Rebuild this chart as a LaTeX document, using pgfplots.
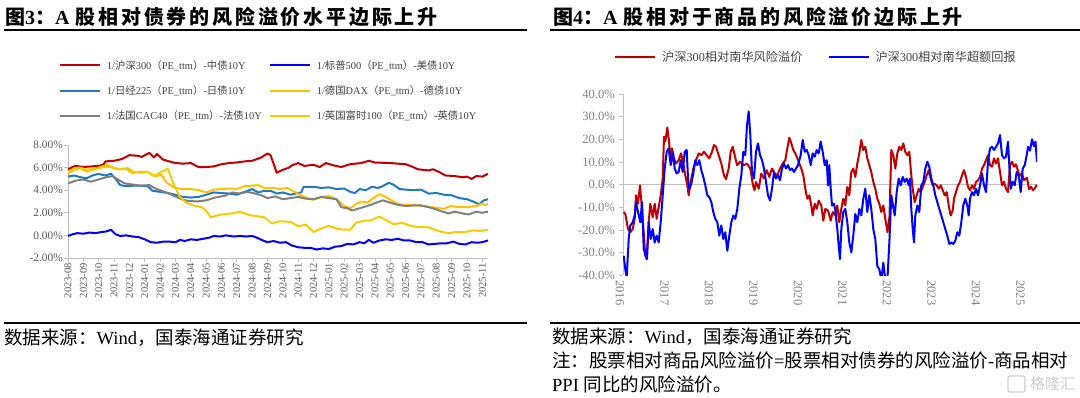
\documentclass[border=0pt]{standalone}
\usepackage{fontspec}
\setmainfont{Liberation Serif}
\newfontfamily\cjk{Noto Sans CJK SC}
\newfontfamily\cjkt{Noto Sans CJK SC}[LetterSpace=14]
\usepackage{pgfplots}
\pgfplotsset{compat=1.18}
\definecolor{cred}{HTML}{C00000}
\definecolor{cblue}{HTML}{0000FF}
\definecolor{clblue}{HTML}{1F78C4}
\definecolor{cdax}{HTML}{FFC000}
\definecolor{cftse}{HTML}{F5CC00}
\definecolor{cgray}{HTML}{808080}
\definecolor{axgray}{HTML}{BFBFBF}
\definecolor{tickgray}{HTML}{595959}
\definecolor{tickgrayb}{HTML}{7F7F7F}
\definecolor{leggray}{HTML}{404040}
\newcommand\zh[1]{{\cjk #1}}
\begin{document}
\begin{tikzpicture}
\path[use as bounding box] (0pt,0pt) rectangle (1080pt,398pt);
% titles
\node[anchor=west, inner sep=0pt] at (5pt,381.5pt) {\fontsize{20}{24}\selectfont\bfseries{\cjkt 图}3{\cjkt ：}A\hspace{6pt}{\cjkt 股相对债券的风险溢价水平边际上升}};
\node[anchor=west, inner sep=0pt] at (553pt,381.5pt) {\fontsize{20}{24}\selectfont\bfseries{\cjkt 图}4{\cjkt ：}A\hspace{6pt}{\cjkt 股相对于商品的风险溢价边际上升}};
\draw[black, line width=1.5pt] (4pt,368pt) -- (527pt,368pt);
\draw[black, line width=1.5pt] (550pt,368pt) -- (1080pt,368pt);
\draw[black, line width=1.5pt] (4pt,75pt) -- (527pt,75pt);
\draw[black, line width=1.5pt] (550pt,75pt) -- (1080pt,75pt);
% sources
\node[anchor=west, inner sep=0pt] at (4pt,60.5pt) {\fontsize{18.5}{20}\selectfont\zh{数据来源：}Wind\zh{，国泰海通证券研究}};
\node[anchor=west, inner sep=0pt] at (552pt,61.3pt) {\fontsize{18.5}{20}\selectfont\zh{数据来源：}Wind\zh{，国泰海通证券研究}};
\node[anchor=west, inner sep=0pt] at (552pt,38pt) {\fontsize{18.5}{20}\selectfont\zh{注：股票相对商品风险溢价}=\zh{股票相对债券的风险溢价}-\zh{商品相对}};
\node[anchor=west, inner sep=0pt] at (552pt,14pt) {\fontsize{18.5}{20}\selectfont PPI \zh{同比的风险溢价。}};
\node[anchor=west, inner sep=0pt, text=gray!40] at (1030pt,14pt) {\cjk\fontsize{15}{16}\selectfont 格隆汇};
\draw[gray!40, line width=1.2pt, rounded corners=2pt] (1008pt,6pt) rectangle (1025pt,22pt);

% ---------------- left chart ----------------
\begin{axis}[
 at={(68pt,140pt)}, anchor=south west,
 scale only axis, width=420pt, height=113pt,
 xmin=0, xmax=27.37, ymin=-2, ymax=8,
 axis x line*=bottom, axis y line*=left,
 axis line style={draw=axgray, line width=0.8pt},
 tick style={draw=axgray, line width=0.8pt},
 tick align=outside, major tick length=4pt,
 xtick={0,1,...,27},
 xticklabels={2023-08,2023-09,2023-10,2023-11,2023-12,2024-01,2024-02,2024-03,2024-04,2024-05,2024-06,2024-07,2024-08,2024-09,2024-10,2024-11,2024-12,2025-01,2025-02,2025-03,2025-04,2025-05,2025-06,2025-07,2025-08,2025-09,2025-10,2025-11},
 xticklabel style={rotate=90, anchor=east, font=\fontsize{10.5}{11}\selectfont, text=tickgray, inner sep=1pt},
 ytick={-2,0,2,4,6,8},
 yticklabels={-2.00\%,0.00\%,2.00\%,4.00\%,6.00\%,8.00\%},
 yticklabel style={font=\fontsize{11.4}{12}\selectfont, text=tickgray, inner sep=1pt},
 legend columns=2,
 legend cell align=left,
 legend style={at={(-0.022,1.77)}, anchor=north west, draw=none, fill=none, inner sep=0pt, font=\fontsize{10.4}{12}\selectfont, text=leggray, column sep=4pt, row sep=11pt, /tikz/every even column/.append style={column sep=5pt}},
 legend image code/.code={\draw[#1, line width=2pt] (0pt,0pt) -- (40pt,0pt);},
 every axis plot/.append style={line width=2pt, line join=round, mark=none},
]
\addplot[cred] coordinates {(0,5.85)(0.3,6.05)(0.5,6.15)(1,6.05)(1.5,6.1)(2,6.15)(2.3,6.25)(2.45,6.55)(3,6.6)(3.5,6.75)(4,7.1)(4.5,7.05)(4.8,6.95)(5.3,7.3)(5.6,6.9)(5.8,7.2)(6.2,6.7)(7,6.4)(7.5,6.35)(8,6.4)(8.5,6.05)(9,6.05)(9.5,6.1)(10,6.3)(10.5,6.4)(11,6.45)(11.5,6.55)(12,6.6)(12.3,6.75)(12.6,6.9)(13,7.25)(13.2,7.1)(13.6,5.55)(14,5.8)(14.4,6.0)(14.6,6.2)(15,6.4)(15.4,6.15)(16,6.25)(16.4,6.05)(16.8,6.4)(17.3,6.2)(17.8,6.05)(18.4,6.3)(19.1,6.4)(19.6,6.6)(20,6.45)(21,6.4)(22,6.3)(22.4,6.1)(22.8,5.85)(23.5,5.75)(23.8,5.85)(24.2,5.6)(24.6,5.3)(25.2,5.25)(25.7,5.15)(26,5.2)(26.3,5.0)(26.6,5.25)(27,5.2)(27.37,5.45)};
\addlegendentry{1/\zh{沪深}300\zh{（}PE\_ttm\zh{）}-\zh{中债}10Y}
\addplot[cblue] coordinates {(0,-0.05)(0.3,0.1)(0.6,0.2)(1,0.15)(1.4,0.25)(1.8,0.2)(2.2,0.3)(2.5,0.35)(2.8,0.5)(3.1,0.1)(3.4,-0.05)(3.8,0.0)(4.2,-0.1)(4.6,-0.15)(5,-0.35)(5.4,-0.6)(5.8,-0.65)(6.2,-0.55)(6.6,-0.55)(7,-0.6)(7.3,-0.4)(7.6,-0.5)(8,-0.35)(8.4,-0.4)(8.8,-0.3)(9.2,-0.2)(9.5,-0.05)(9.9,-0.1)(10.3,0.0)(10.8,-0.1)(11.2,-0.05)(11.6,-0.1)(12,-0.05)(12.3,-0.2)(12.7,-0.45)(13,-0.6)(13.4,-0.5)(13.8,-0.65)(14.2,-0.6)(14.6,-0.9)(15,-1.05)(15.4,-1.1)(15.8,-1.1)(16.2,-1.25)(16.6,-1.15)(17,-1.2)(17.4,-1.0)(17.8,-0.95)(18.2,-0.75)(18.6,-0.8)(19,-0.6)(19.3,-0.7)(19.6,-0.4)(19.9,-0.65)(20.3,-0.45)(20.7,-0.35)(21.1,-0.4)(21.5,-0.3)(21.9,-0.45)(22.3,-0.45)(22.7,-0.6)(23.1,-0.6)(23.5,-0.8)(23.9,-0.75)(24.3,-0.7)(24.7,-0.7)(25.1,-0.55)(25.5,-0.75)(25.9,-0.8)(26.3,-0.6)(26.7,-0.65)(27,-0.6)(27.37,-0.45)};
\addlegendentry{1/\zh{标普}500\zh{（}PE\_ttm\zh{）}-\zh{美债}10Y}
\addplot[clblue] coordinates {(0,5.2)(0.4,5.3)(0.8,5.15)(1.2,5.05)(1.6,5.3)(2,5.45)(2.4,5.3)(2.8,5.45)(3.1,5.0)(3.4,4.45)(3.8,4.35)(4.3,4.4)(4.8,4.4)(5.2,4.35)(5.5,3.95)(6,3.85)(6.5,3.75)(7,3.6)(7.5,3.4)(8,3.35)(8.5,3.4)(9,3.6)(9.5,3.8)(10,3.75)(10.5,3.7)(11,3.6)(11.5,3.85)(12,4.1)(12.4,3.8)(12.8,3.95)(13.2,3.95)(13.6,3.7)(14,3.8)(14.5,3.6)(15,3.75)(15.2,3.8)(15.35,4.3)(16,4.3)(16.5,4.2)(17,4.25)(17.5,4.1)(18,4.15)(18.4,3.85)(18.7,3.75)(19,4.1)(19.4,4.0)(19.8,4.3)(20.2,4.2)(20.5,4.35)(20.9,4.65)(21.2,4.5)(21.6,4.1)(22,4.05)(22.5,4.0)(23,4.05)(23.5,3.7)(24,3.75)(24.5,3.6)(25,3.55)(25.5,3.3)(26,3.2)(26.4,3.0)(26.8,2.75)(27.1,3.1)(27.37,3.2)};
\addlegendentry{1/\zh{日经}225\zh{（}PE\_ttm\zh{）}-\zh{日债}10Y}
\addplot[cdax] coordinates {(0,5.5)(0.4,5.8)(0.8,5.95)(1.2,5.65)(1.6,5.8)(2,5.95)(2.5,6.1)(2.9,6.0)(3.3,5.85)(3.8,5.9)(4.2,5.5)(4.7,5.65)(5.2,5.6)(5.7,5.25)(6.1,5.35)(6.4,4.7)(6.9,4.25)(7.4,4.1)(8,4.1)(8.5,4.0)(9,3.8)(9.5,4.05)(10,4.1)(10.5,4.15)(11,4.1)(11.5,4.35)(12,4.4)(12.4,4.45)(12.8,4.2)(13.3,4.2)(13.8,4.1)(14.3,4.2)(14.7,3.9)(15.1,3.6)(15.6,3.3)(16,3.15)(16.5,3.4)(17,3.5)(17.5,3.2)(18,2.6)(18.4,2.4)(18.8,2.8)(19.1,3.0)(19.5,2.9)(19.9,3.3)(20.3,3.65)(20.7,3.4)(21.2,3.0)(21.6,2.75)(22.2,2.7)(22.8,2.65)(23.4,2.55)(24,2.45)(24.5,2.35)(24.9,2.6)(25.5,2.5)(26,2.5)(26.6,2.6)(27,2.8)(27.2,2.65)(27.37,2.85)};
\addlegendentry{1/\zh{德国}DAX\zh{（}PE\_ttm\zh{）}-\zh{德债}10Y}
\addplot[cgray] coordinates {(0,4.6)(0.5,4.85)(1,4.95)(1.5,4.75)(2,4.95)(2.5,5.15)(2.9,5.25)(3.3,4.9)(3.7,4.6)(4.2,4.5)(4.7,4.4)(5.3,4.45)(5.7,4.15)(6.3,3.85)(6.9,3.5)(7.4,3.2)(7.8,3.05)(8.4,3.0)(9,3.1)(9.6,3.35)(10.2,3.5)(10.7,3.8)(11.2,3.7)(11.7,3.85)(12.2,3.7)(12.6,3.55)(13,3.3)(13.5,3.45)(14,3.2)(14.5,3.3)(15,3.4)(15.5,3.25)(16,3.2)(16.5,3.4)(17,3.3)(17.5,3.2)(17.8,2.5)(18.2,2.4)(18.5,2.2)(19,2.4)(19.5,2.6)(20,2.85)(20.5,3.1)(21,2.9)(21.5,2.7)(22,2.6)(22.5,2.65)(23,2.65)(23.5,2.5)(24,2.3)(24.4,2.1)(24.8,1.95)(25.2,2.1)(25.7,1.95)(26.1,1.85)(26.6,2.1)(27,2.0)(27.37,2.1)};
\addlegendentry{1/\zh{法国}CAC40\zh{（}PE\_ttm\zh{）}-\zh{法债}10Y}
\addplot[cftse] coordinates {(0,5.6)(0.4,5.95)(0.8,6.0)(1.2,5.8)(1.6,5.9)(2,6.0)(2.6,6.25)(3,5.95)(3.4,5.85)(3.9,5.95)(4.3,5.6)(4.8,5.55)(5.2,5.6)(5.6,5.25)(6,5.55)(6.5,5.9)(6.9,4.5)(7.3,3.4)(7.7,2.9)(8.2,2.65)(8.7,2.5)(9,2.2)(9.3,1.6)(9.8,1.8)(10.3,1.9)(10.7,1.95)(11.2,2.1)(11.8,1.8)(12.3,1.7)(12.8,1.6)(13.3,1.05)(13.8,1.25)(14.5,1.2)(15,0.8)(15.5,0.95)(16,0.3)(16.5,0.6)(17,0.85)(17.5,0.6)(18,0.5)(18.4,0.5)(18.8,1.15)(19.3,1.3)(19.7,1.3)(20,1.5)(20.3,1.65)(20.8,1.3)(21.2,1.0)(21.8,1.1)(22.2,0.9)(22.7,0.75)(23.4,0.75)(23.9,0.5)(24.4,0.3)(24.8,0.2)(25.3,0.3)(25.9,0.3)(26.4,0.45)(26.9,0.4)(27.37,0.5)};
\addlegendentry{1/\zh{英国富时}100\zh{（}PE\_ttm\zh{）}-\zh{英债}10Y}
\end{axis}

% ---------------- right chart ----------------
\begin{axis}[
 at={(623pt,122.7pt)}, anchor=south west,
 scale only axis, width=414pt, height=181.3pt,
 xmin=623, xmax=1037, ymin=-40, ymax=40,
 axis x line*=bottom, axis y line*=left,
 x axis line style={draw=none},
 y axis line style={draw=axgray, line width=1pt},
 xtick={623,667.5,712,756.5,801,845.5,890,934.5,979,1023.5},
 xticklabels={2016,2017,2018,2019,2020,2021,2022,2023,2024,2025},
 xtick style={draw=none},
 ytick={-40,-30,-20,-10,0,10,20,30,40},
 yticklabels={-40.0\%,-30.0\%,-20.0\%,-10.0\%,0.0\%,10.0\%,20.0\%,30.0\%,40.0\%},
 ytick style={draw=axgray, line width=0.8pt},
 tick align=outside, major tick length=4pt,
 xticklabel style={rotate=-90, anchor=west, font=\fontsize{12.5}{13}\selectfont, text=tickgrayb, inner sep=1pt, yshift=-3pt},
 yticklabel style={font=\fontsize{12.6}{13}\selectfont, text=tickgrayb, inner sep=1pt, xshift=-3pt},
 legend columns=2,
 legend style={at={(-0.0217,1.248)}, anchor=north west, draw=none, fill=none, inner sep=0pt, font=\fontsize{12.2}{14}\selectfont, text=leggray, column sep=4pt, /tikz/every even column/.append style={column sep=23pt}},
 legend image code/.code={\draw[#1, line width=2pt] (0pt,0pt) -- (40pt,0pt);},
 every axis plot/.append style={line width=2pt, line join=round, mark=none},
]
\draw[axgray, line width=1.2pt] (axis cs:623,0) -- (axis cs:1037,0);
\addplot[cred] coordinates {(623.7,-12.1)(625.3,-12.9)(628,-19.6)(630.3,-21)(632.7,-19.6)(634.7,-15.1)(636,-4.7)(638,-8.4)(640,-0.3)(642,-10.7)(643.7,-21)(645.3,-31.4)(647,-32.9)(648.7,-16.6)(650.3,-8.4)(652.7,-14.4)(654.7,-8.4)(656.7,-15.1)(658.7,-9.9)(660.7,-4.7)(662.7,2.7)(664,21.2)(665.3,19)(667.3,25.2)(668.7,20.4)(670.3,13)(672,16)(674,11.6)(676,9.3)(678.7,10.8)(681,13.8)(683.3,9.3)(685.3,4.1)(687.3,-0.3)(688.7,-4.7)(690.7,1.2)(693.3,7.1)(696,10.8)(698.7,13.8)(701.3,13)(704,14.5)(706.7,13)(709.3,11.6)(712,14.5)(714,17.5)(716,16.7)(718.7,13)(721.3,9.3)(724,4.1)(726,2.4)(728.7,7.1)(730.7,14.5)(732.7,16.7)(734.7,13)(737,8.6)(740.3,10.1)(743.7,8.6)(747,9.3)(750.3,7.1)(753,-0.3)(754.5,-2.5)(756,1.2)(758.7,-1.8)(761.3,4.9)(764,2.7)(766.7,6.4)(769.3,3.4)(772,7.1)(774.7,4.9)(777.3,4.1)(780,7.1)(782.7,9.3)(785.3,10.8)(787.3,16)(789.3,20.7)(791.3,18.2)(793.3,15.3)(795.3,13.8)(797.3,11.6)(799.3,9.3)(801.3,7.1)(803.3,4.1)(805.3,-1.8)(807.3,-6.2)(809.3,-4.7)(811.3,-9.2)(812.7,-13.6)(814.7,-8.4)(816.7,-10.7)(818.7,-7)(821.3,-9.2)(823.3,-15.9)(825.3,-10.7)(828,-11.4)(830.7,-15.9)(832.7,-12.1)(835.3,-13.6)(837.3,-9.2)(839.3,-16.6)(841.3,-10.7)(843.3,-6.2)(845.3,-9.2)(847.3,-1)(849.3,-4.7)(851.3,5.6)(853.3,7.1)(855.3,3.4)(857.3,9.3)(859.3,13.8)(861.3,19.7)(863.3,15.3)(865.3,16.7)(867.3,11.6)(869.3,8.6)(871.3,5.6)(873.3,1.2)(875.3,-1.8)(877.3,-6.2)(879.3,-8.4)(881.3,-12.1)(883.3,-9.2)(885.3,-15.1)(887.5,-21)(889.5,-14)(891.3,15.3)(893.3,13)(895.3,7.1)(897.3,13.8)(899.3,16.7)(901.3,15.3)(903.3,18.2)(905.3,14.5)(907.3,13)(909.3,14.5)(911.3,4.1)(912.7,-1.8)(914.7,-7.7)(916.7,-4.7)(918.7,-1.8)(920.7,-3.3)(922.7,-1)(924.7,1.2)(926.7,4.1)(928.7,6.4)(930.7,2.7)(932.7,-0.3)(934.7,0.4)(936.7,-0.3)(938.7,-1.8)(940.7,-0.3)(942.7,-2.5)(944.7,-4.7)(946.7,-3.3)(948.7,-9.2)(950.7,-13.6)(952.7,-11.4)(954,-6.2)(956,-3.3)(958,-0.3)(960,1.2)(962,4.1)(964,6.4)(966,3.4)(968,-1)(970,-2.5)(972,-0.3)(974,-1.8)(976,1.2)(978,1.9)(980,3.4)(982,7.1)(984,8.6)(986,10.8)(988,13)(990,8.6)(992,7.9)(994,11.6)(996,9.3)(998,11.6)(1000,5.6)(1002,-0.3)(1004,1.2)(1006,-1.8)(1008,-3.3)(1010,8.6)(1012,10.1)(1014,7.9)(1016,9)(1018,6)(1020,4)(1022,5)(1024,2)(1027,3)(1029,-2)(1031,-1)(1033,-2.5)(1035,-1.5)(1037,0)};
\addlegendentry{\zh{沪深}300\zh{相对南华风险溢价}}
\addplot[cblue] coordinates {(623.7,-31.4)(625.3,-37.3)(626.7,-41)(628.7,-24)(630.3,-18)(632.7,-16.6)(634.7,-13.6)(636,-7.7)(638,-12.1)(640.3,-16.6)(642,-7.7)(643.7,-28.4)(645.3,-30.7)(646.7,-32.9)(648.7,-16.6)(650.7,-24)(652.7,-19.6)(654.7,-25.5)(656.7,-22.5)(658.7,-25.5)(660.7,-16.6)(662.7,-4.7)(664.7,7.1)(666.7,14.5)(668.7,16)(670.7,8.6)(672.7,14.5)(674.7,7.1)(676.7,4.9)(678.7,5.6)(680.7,10.8)(682.7,5.6)(684.7,14.5)(686.7,15.3)(688,2.7)(689.3,-1.8)(691.3,0.4)(693.3,4.9)(695.3,10.8)(697.3,8.6)(699.3,10.8)(701.3,6.4)(703.3,3.4)(705.3,-0.3)(707.3,-4.7)(709.3,-5.5)(711.3,-7.7)(713.3,-12.1)(715.3,-15.1)(717.3,-16.6)(719.3,-22.5)(721.3,-18)(723.3,-24)(725.3,-21)(727.3,-29.2)(729.3,-22.5)(731.3,-16.6)(733.3,-13.6)(735.3,-15.1)(737.3,-10.7)(739.3,-1.8)(741.3,4.1)(743.3,14.5)(745.3,13)(747,26.4)(748.7,32.3)(750.3,21.9)(752,5.6)(754,2.7)(756,14.5)(758,18.2)(760,13)(762,10.8)(764,7.1)(766,1.2)(768,-4.7)(770,-7)(772,-1.8)(774,5.6)(776,2.7)(778,4.1)(780,1.9)(782,7.1)(784,9.3)(786,7.1)(788,8.6)(790,6.4)(792,7.1)(794,5.6)(796,7.1)(798,8.6)(800.7,13)(802.7,19.7)(804.7,14.5)(806.7,15.3)(808.7,13)(810.7,8.6)(812.7,13.8)(814.7,12.3)(816.7,15.3)(818.7,13.8)(820.7,19)(822.7,14.5)(824.7,8.6)(826.7,10.8)(828,-0.3)(829.3,8.6)(830.7,-1.8)(832,-9.2)(834,-8.4)(835.3,-11.4)(837.3,-19.6)(838.7,-27)(840,-32.9)(841.3,-19.6)(843.3,-12.1)(845.3,-10.7)(847.3,-16.6)(849.3,-25.5)(851.3,-29.9)(853.3,-22.5)(855.3,-12.9)(857.3,-16.6)(859.3,-10.7)(861.3,-13.6)(863.3,-6.2)(865.3,-1.8)(867.3,-12.1)(869.3,-4.7)(871.3,-10.7)(873.3,-19.6)(875.3,-24)(877.3,-35.9)(879.3,-37.3)(881.3,-42)(883.3,-34.4)(885.3,-42)(887.3,-43)(889.5,-24)(891.3,-4.7)(893,-9.2)(894.7,-13.6)(896.7,-3.3)(898.7,2.7)(900.7,-0.3)(902.7,3.4)(904.7,1.2)(906.7,2.7)(908.7,-0.3)(910,2.7)(911.3,-10.7)(912.7,-19.6)(914,-25.5)(915.3,-13.6)(917.3,-9.2)(919.3,-12.1)(921.3,-0.3)(923.3,1.2)(925.3,7.1)(927.3,10.1)(929.3,7.9)(931.3,2.7)(933.3,-0.3)(935.3,-4.7)(937.3,-7.7)(939.3,-10.7)(941.3,-13.6)(943.3,-16.6)(945.3,-19.6)(947.3,-22.5)(949.3,-26.2)(951.3,-25.5)(953.3,-26.2)(955.3,-24.7)(957.3,-21)(959.3,-22.5)(961.3,-16.6)(963.3,-9.2)(965.3,-6.2)(967.3,-9.2)(968.7,-13.6)(970,-6.2)(972,-3.3)(974,-4.7)(976,-1.8)(978,-4.7)(980,-0.3)(982,4.9)(984,-0.3)(986,-3.3)(988,10.1)(990,16)(992,16.7)(994,15.3)(996,16.7)(998,18.2)(1000,21.9)(1002,13)(1004,11.6)(1006,12.3)(1008,19)(1009.3,8.6)(1010.7,-1.8)(1012.7,1.2)(1014.7,-0.3)(1016.7,5.6)(1018.7,4.1)(1020.7,-3.3)(1022.7,7.1)(1024.7,8.6)(1026.7,13)(1028,16.7)(1030,15)(1032,20)(1034,17)(1035.5,19)(1037,10)};
\addlegendentry{\zh{沪深}300\zh{相对南华超额回报}}
\end{axis}
\end{tikzpicture}
\end{document}
